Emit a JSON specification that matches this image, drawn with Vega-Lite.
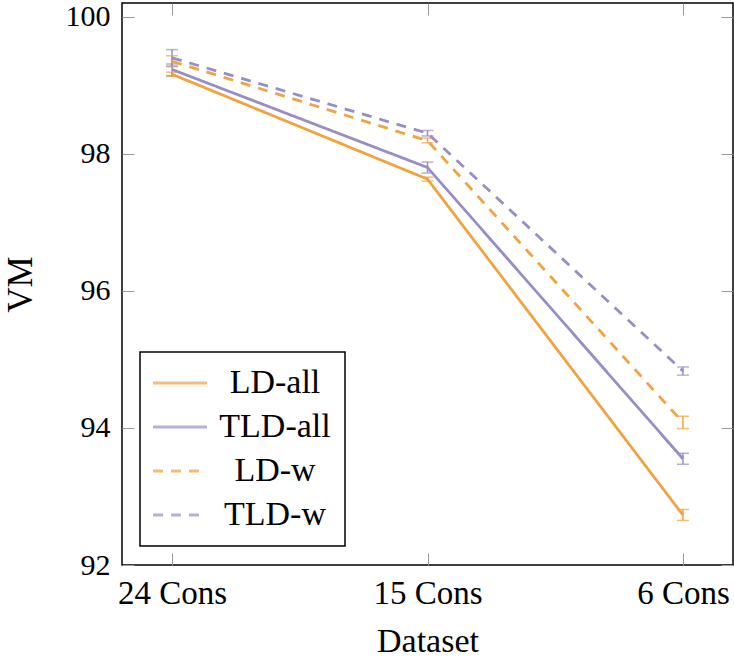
{
  "$schema": "https://vega.github.io/schema/vega-lite/v6.json",
  "width": 611,
  "height": 562,
  "autosize": "none",
  "padding": {"left": 122, "top": 3, "right": 1, "bottom": 93},
  "background": "white",
  "config": {
    "view": {"stroke": "black", "strokeWidth": 1.5},
    "font": "Liberation Serif, Times New Roman, serif",
    "axis": {"grid": false, "domain": false, "tickColor": "#999999", "tickWidth": 1, "labelColor": "black", "titleColor": "black", "labelFont": "Liberation Serif, Times New Roman, serif", "titleFont": "Liberation Serif, Times New Roman, serif", "titleFontWeight": "normal"},
    "legend": {
      "orient": "none", "legendX": 18, "legendY": 349,
      "strokeColor": "black", "strokeWidth": 1.5, "fillColor": "white",
      "padding": 14, "labelFont": "Liberation Serif, Times New Roman, serif", "labelFontSize": 34, "labelColor": "black",
      "symbolType": "M-2,0L2,0", "symbolSize": 729, "symbolStrokeWidth": 3,
      "rowPadding": 10, "labelAlign": "center", "labelOffset": 78, "labelLimit": 400, "symbolOffset": 9
    }
  },
  "data": {"values": [
    {"series": "LD-all", "dataset": "24 Cons", "value": 99.16, "lo": 99.13, "hi": 99.19},
    {"series": "LD-all", "dataset": "15 Cons", "value": 97.63, "lo": 97.6, "hi": 97.66},
    {"series": "LD-all", "dataset": "6 Cons", "value": 92.73, "lo": 92.65, "hi": 92.81},
    {"series": "TLD-all", "dataset": "24 Cons", "value": 99.23, "lo": 99.14, "hi": 99.31},
    {"series": "TLD-all", "dataset": "15 Cons", "value": 97.8, "lo": 97.72, "hi": 97.88},
    {"series": "TLD-all", "dataset": "6 Cons", "value": 93.55, "lo": 93.47, "hi": 93.63},
    {"series": "LD-w", "dataset": "24 Cons", "value": 99.35, "lo": 99.27, "hi": 99.43},
    {"series": "LD-w", "dataset": "15 Cons", "value": 98.19, "lo": 98.16, "hi": 98.23},
    {"series": "LD-w", "dataset": "6 Cons", "value": 94.08, "lo": 93.99, "hi": 94.17},
    {"series": "TLD-w", "dataset": "24 Cons", "value": 99.4, "lo": 99.28, "hi": 99.52},
    {"series": "TLD-w", "dataset": "15 Cons", "value": 98.3, "lo": 98.26, "hi": 98.34},
    {"series": "TLD-w", "dataset": "6 Cons", "value": 94.83, "lo": 94.77, "hi": 94.89}
  ]},
  "layer": [
    {
      "mark": {"type": "rule", "strokeWidth": 1.5},
      "encoding": {
        "x": {"field": "dataset", "type": "ordinal", "sort": ["24 Cons", "15 Cons", "6 Cons"],
              "axis": {"orient": "top", "title": null, "labels": false, "tickSize": -12}},
        "y": {"field": "lo", "type": "quantitative",
              "axis": {"orient": "right", "title": null, "labels": false, "tickSize": -12, "values": [92, 94, 96, 98, 100]}},
        "y2": {"field": "hi"},
        "color": {"field": "series", "type": "nominal", "title": null}
      }
    },
    {
      "mark": {"type": "tick", "size": 12, "thickness": 1.5},
      "encoding": {
        "x": {"field": "dataset", "type": "ordinal", "sort": ["24 Cons", "15 Cons", "6 Cons"], "axis": null},
        "y": {"field": "lo", "type": "quantitative", "axis": null},
        "color": {"field": "series", "type": "nominal", "title": null}
      }
    },
    {
      "mark": {"type": "tick", "size": 12, "thickness": 1.5},
      "encoding": {
        "x": {"field": "dataset", "type": "ordinal", "sort": ["24 Cons", "15 Cons", "6 Cons"], "axis": null},
        "y": {"field": "hi", "type": "quantitative", "axis": null},
        "color": {"field": "series", "type": "nominal", "title": null}
      }
    },
    {
      "mark": {"type": "line", "strokeWidth": 2.8},
      "encoding": {
        "x": {"field": "dataset", "type": "ordinal", "sort": ["24 Cons", "15 Cons", "6 Cons"],
              "scale": {"type": "point", "padding": 0.196},
              "axis": {"orient": "bottom", "title": "Dataset", "titleFontSize": 34, "titlePadding": 14, "labelFontSize": 33, "labelAngle": 0, "tickSize": -12, "labelPadding": 24}},
        "y": {"field": "value", "type": "quantitative", "scale": {"domain": [92, 100.2], "nice": false, "zero": false},
              "axis": {"orient": "left", "values": [92, 94, 96, 98, 100], "title": "VM", "titleFontSize": 35, "titlePadding": 27, "labelFontSize": 30, "tickSize": -12, "labelPadding": 24}},
        "color": {"field": "series", "type": "nominal", "title": null,
                  "scale": {"domain": ["LD-all", "TLD-all", "LD-w", "TLD-w"], "range": ["#f1a340", "#998ec3", "#f1a340", "#998ec3"]}},
        "strokeDash": {"field": "series", "type": "nominal", "title": null,
                  "scale": {"domain": ["LD-all", "TLD-all", "LD-w", "TLD-w"], "range": [[1, 0], [1, 0], [10, 8], [10, 8]]}}
      }
    }
  ],
  "resolve": {"axis": {"x": "independent", "y": "independent"}}
}
